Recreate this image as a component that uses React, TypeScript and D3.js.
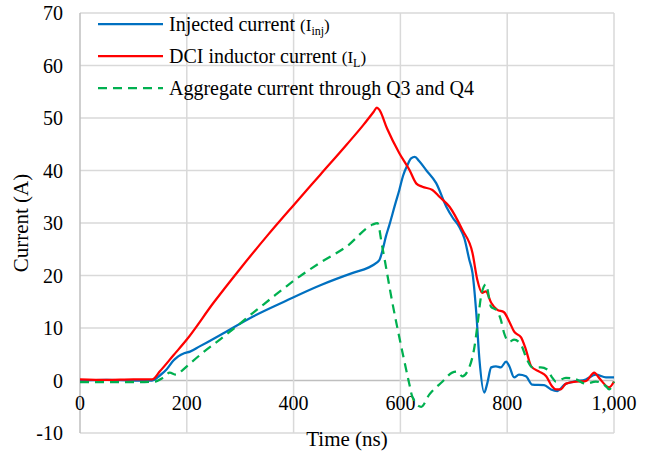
import React from "react";
import * as d3 from "d3";

// ---- Data (time in ns, current in A) ----
const injT = [0, 50, 100, 135, 150, 162, 175, 184, 195, 206, 224, 262, 324, 386, 449, 511, 540, 555, 561, 567, 573, 579, 590, 598, 605, 613, 620, 627, 635, 648, 667, 686, 698, 710, 720, 729, 735, 742, 748, 757, 763, 770, 779, 788, 798, 804, 813, 822, 835, 847, 869, 882, 894, 907, 925, 947, 966, 985, 1000];
const injI = [0, 0.1, 0, 0, 1, 2.1, 3.8, 4.6, 5.2, 5.5, 6.5, 8.6, 12.2, 15.2, 18.1, 20.5, 21.5, 22.4, 23, 25, 27.5, 29.5, 33.5, 36.3, 39, 41, 42.3, 42.6, 41.8, 40.1, 37.6, 33.1, 31, 29.3, 27, 23, 20.5, 13, 4, -2.3, -0.4, 2.5, 2.7, 2.5, 3.6, 2.7, 0.6, 1.1, 0.8, -0.8, -0.9, -1.7, -2, -0.8, -0.2, 0.2, 1.1, 0.6, 0.6];

const ilT = [0, 50, 100, 135, 150, 175, 200, 250, 300, 350, 400, 450, 500, 530, 550, 556, 561, 575, 598, 617, 630, 641, 660, 673, 692, 716, 735, 744, 753, 760, 770, 781, 794, 804, 813, 826, 835, 845, 860, 873, 884, 891, 900, 910, 929, 947, 963, 972, 991, 1000];
const ilI = [0.2, 0.1, 0.2, 0.2, 1.8, 4.8, 7.8, 14.8, 21.3, 27.5, 33.4, 39.2, 45, 48.6, 51.2, 52, 51.5, 48, 43.3, 40.1, 37.5, 36.9, 36.3, 35, 33.1, 28.7, 24.3, 19.2, 16.7, 17, 14.8, 13.5, 13, 11.2, 9.3, 8.2, 5.9, 2.7, 1.7, 0.8, -1.1, -1.7, -1.7, -0.6, -0.2, -0.1, 1.5, 0.5, -1.3, -0.2];

const aggT = [0, 50, 100, 140, 155, 168, 180, 190, 200, 230, 262, 293, 324, 355, 386, 411, 449, 499, 548, 557, 566, 585, 604, 617, 622, 639, 654, 679, 697, 707, 716, 729, 738, 744, 751, 760, 770, 779, 788, 794, 804, 813, 826, 837, 847, 863, 875, 884, 891, 910, 929, 947, 966, 985, 991, 1000];
const aggI = [-0.3, -0.3, -0.3, -0.2, 0.5, 1.5, 1.1, 1.8, 2.7, 5.3, 7.8, 10.3, 12.9, 15.4, 17.9, 19.8, 22.4, 25.5, 29.7, 30, 25.5, 14.8, 5.3, -0.8, -3, -5, -2.7, -0.2, 1.5, 1.7, 0.8, 2.5, 6, 10.3, 16, 18.3, 14, 13.5, 11.6, 9.1, 7.4, 7.8, 6.8, 4, 2.5, 2.5, 2.1, 0.6, -0.2, 0.5, 0.2, -0.6, -0.2, -1.1, -1.7, -0.2];

const xTicks = [0, 200, 400, 600, 800, 1000];
const yTicks = [-10, 0, 10, 20, 30, 40, 50, 60, 70];

const FONT = '"Liberation Serif", Tinos, "Times New Roman", "DejaVu Serif", serif';

export default function App() {
  const W = 648, H = 452;
  const x = d3.scaleLinear().domain([0, 1000]).range([80, 614]);
  const y = d3.scaleLinear().domain([-10, 70]).range([433, 13]);
  const line = d3
    .line<[number, number]>()
    .x((d) => x(d[0]))
    .y((d) => y(d[1]))
    .curve(d3.curveMonotoneX);
  const zip = (t: number[], v: number[]) => t.map((tt, i) => [tt, v[i]] as [number, number]);
  const fmt = d3.format(",");

  const series = [
    { name: "inj", data: zip(injT, injI), color: "#0070C0", dash: undefined },
    { name: "il", data: zip(ilT, ilI), color: "#FF0000", dash: undefined },
    { name: "agg", data: zip(aggT, aggI), color: "#00B050", dash: "9,6" },
  ];

  const legend = [
    { color: "#0070C0", dash: undefined, label: "Injected current ", sub: "inj", y: 24 },
    { color: "#FF0000", dash: undefined, label: "DCI inductor current ", sub: "L", y: 56 },
    { color: "#00B050", dash: "9,6", label: "Aggregate current through Q3 and Q4", sub: null, y: 88 },
  ];

  return (
    <svg width={W} height={H} style={{ position: "absolute", left: 0, top: 0, background: "#fff", fontFamily: FONT }}>
      {/* grid */}
      {yTicks.map((v) => (
        <line key={"gy" + v} x1={x(0)} x2={x(1000)} y1={y(v)} y2={y(v)} stroke={v === 0 ? "#bfbfbf" : "#d9d9d9"} strokeWidth={1.5} />
      ))}
      {xTicks.map((v) => (
        <line key={"gx" + v} x1={x(v)} x2={x(v)} y1={y(-10)} y2={y(70)} stroke={v === 0 ? "#bfbfbf" : "#d9d9d9"} strokeWidth={1.5} />
      ))}
      {/* y tick labels */}
      {yTicks.map((v) => (
        <text key={"ty" + v} x={63} y={y(v)} dy="0.35em" textAnchor="end" fontSize={20} fill="#000" style={{ fontFamily: FONT }}>
          {v}
        </text>
      ))}
      {/* x tick labels */}
      {xTicks.map((v) => (
        <text key={"tx" + v} x={x(v)} y={410} textAnchor="middle" fontSize={20} fill="#000" style={{ fontFamily: FONT }}>
          {fmt(v)}
        </text>
      ))}
      {/* series */}
      {series.map((s) => (
        <path key={s.name} d={line(s.data) || ""} fill="none" stroke={s.color} strokeWidth={2.25} strokeDasharray={s.dash} strokeLinejoin="round" />
      ))}
      {/* axis titles */}
      <text x={347} y={446} textAnchor="middle" fontSize={21} fill="#000" style={{ fontFamily: FONT }}>Time (ns)</text>
      <text transform={`translate(28,${(y(-10) + y(70)) / 2}) rotate(-90)`} textAnchor="middle" fontSize={21} fill="#000" style={{ fontFamily: FONT }}>
        Current (A)
      </text>
      {/* legend */}
      {legend.map((l) => (
        <g key={l.label}>
          <line x1={98} x2={163} y1={l.y} y2={l.y} stroke={l.color} strokeWidth={2.25} strokeDasharray={l.dash} />
          <text x={169} y={l.y + 7} fontSize={20} fill="#000" style={{ fontFamily: FONT }}>
            {l.label}
            {l.sub && (
              <>
                <tspan fontSize={17}>(I</tspan>
                <tspan fontSize={12} dy={4}>{l.sub}</tspan>
                <tspan fontSize={17} dy={-4}>)</tspan>
              </>
            )}
          </text>
        </g>
      ))}
    </svg>
  );
}
